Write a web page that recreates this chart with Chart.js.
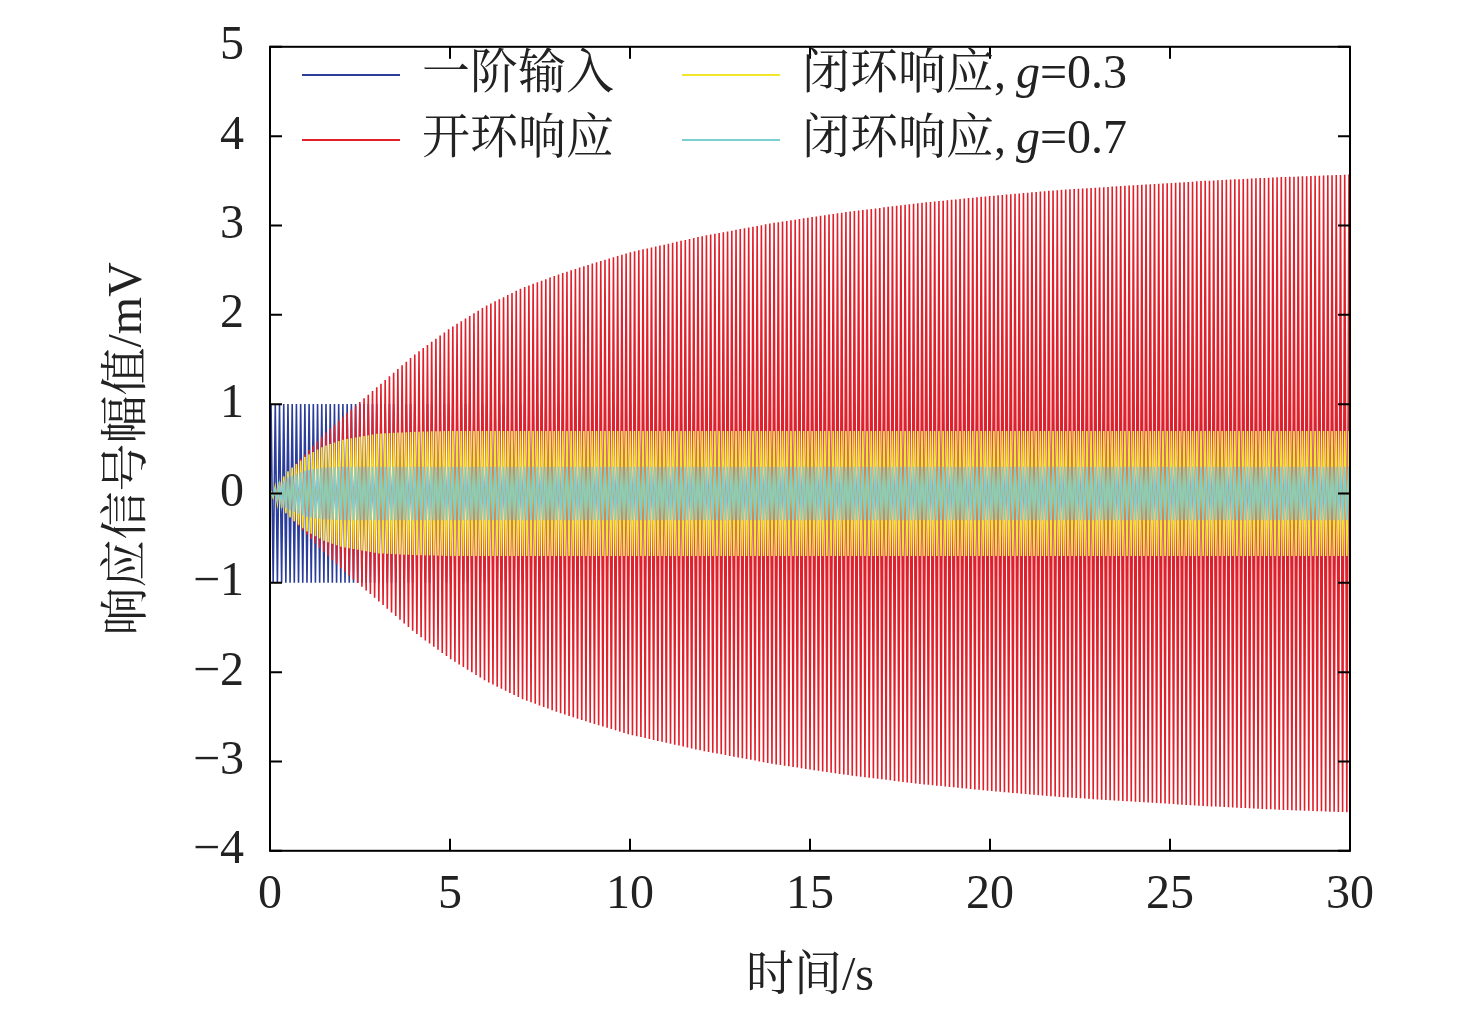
<!DOCTYPE html>
<html lang="zh">
<head>
<meta charset="UTF-8">
<title>响应信号</title>
<script src="https://cdn.jsdelivr.net/npm/chart.js"></script>
<style>
  html, body { margin: 0; background: #fff; }
  #wrap { width: 1476px; height: 1014px; }
</style>
</head>
<body>
<div id="wrap"><canvas id="c" width="1476" height="1014"></canvas></div>
<script>
// envelope amplitudes (time in s, amplitude in mV)
const envT      = [0, 0.5, 1, 1.5, 2, 3, 4, 5, 6, 7, 8, 9, 10, 12, 14, 16, 18, 20, 22, 24, 26, 28, 30];
const inputAmp  = [1, 1, 1, 1, 1, 1, 1, 1, 1, 1, 1, 1, 1, 1, 1, 1, 1, 1, 1, 1, 1, 1, 1];
const openAmp   = [0, 0.24, 0.45, 0.66, 0.85, 1.2, 1.55, 1.85, 2.1, 2.3, 2.45, 2.58, 2.7, 2.88, 3.03, 3.15, 3.25, 3.33, 3.4, 3.45, 3.5, 3.54, 3.57];
const g03Amp    = [0, 0.25, 0.42, 0.53, 0.6, 0.67, 0.69, 0.7, 0.7, 0.7, 0.7, 0.7, 0.7, 0.7, 0.7, 0.7, 0.7, 0.7, 0.7, 0.7, 0.7, 0.7, 0.7];
const g07Amp    = [0, 0.18, 0.26, 0.29, 0.3, 0.3, 0.3, 0.3, 0.3, 0.3, 0.3, 0.3, 0.3, 0.3, 0.3, 0.3, 0.3, 0.3, 0.3, 0.3, 0.3, 0.3, 0.3];
const cyclesPerSecond = 8.5;
const seriesNames = ['一阶输入', '开环响应', '闭环响应, g=0.3', '闭环响应, g=0.7'];
const seriesColors = ['#2a3d9a', '#e0202a', '#f2e62a', '#7ccfcf'];
const xTicks = [0, 5, 10, 15, 20, 25, 30];
const yTicks = [-4, -3, -2, -1, 0, 1, 2, 3, 4, 5];

function envAt(amp, t) {
  for (let i = 1; i < envT.length; i++) {
    if (t <= envT[i]) {
      const f = (t - envT[i-1]) / (envT[i] - envT[i-1]);
      return amp[i-1] + f * (amp[i] - amp[i-1]);
    }
  }
  return amp[amp.length - 1];
}
// alternate the envelope sign each half cycle
function swing(amp) {
  const pts = [{x: 0, y: 0}];
  const n = Math.round(2 * cyclesPerSecond * 30);
  for (let k = 0; k <= n; k++) {
    const t = (k + 0.5) * 30 / (n + 1);
    pts.push({x: t, y: (k % 2 ? -1 : 1) * envAt(amp, t)});
  }
  return pts;
}
const amps = [inputAmp, openAmp, g03Amp, g07Amp];

const FONT = '"Liberation Serif", "Noto Sans CJK SC", serif';
const CJK = '"Liberation Serif", "Noto Serif CJK SC", "Noto Sans CJK SC", serif';
const fmt = v => (v < 0 ? '−' + (-v) : '' + v);

const frame = {
  id: 'frame',
  afterDraw(chart) {
    const {ctx, chartArea: a, scales: {x, y}} = chart;
    ctx.save();
    ctx.strokeStyle = '#000'; ctx.lineWidth = 2;
    ctx.strokeRect(a.left, a.top, a.right - a.left, a.bottom - a.top);
    ctx.beginPath();
    xTicks.forEach(v => { const p = x.getPixelForValue(v);
      ctx.moveTo(p, a.bottom); ctx.lineTo(p, a.bottom - 12);
      ctx.moveTo(p, a.top); ctx.lineTo(p, a.top + 12); });
    yTicks.forEach(v => { const p = y.getPixelForValue(v);
      ctx.moveTo(a.left, p); ctx.lineTo(a.left + 12, p);
      ctx.moveTo(a.right, p); ctx.lineTo(a.right - 12, p); });
    ctx.stroke();
    // legend
    const items = [[302, 75], [302, 140], [682, 75], [682, 140]];
    ctx.font = '48px ' + CJK; ctx.textBaseline = 'middle';
    items.forEach(([lx, ly], i) => {
      ctx.strokeStyle = seriesColors[i]; ctx.lineWidth = 2;
      ctx.beginPath(); ctx.moveTo(lx, ly); ctx.lineTo(lx + 98, ly); ctx.stroke();
      ctx.fillStyle = '#222';
      let tx = lx + 120;
      const name = seriesNames[i];
      const gi = name.indexOf('g=');
      if (gi < 0) { ctx.fillText(name, tx, ly); return; }
      const pre = name.slice(0, gi - 1);
      ctx.fillText(pre, tx, ly); tx += ctx.measureText(pre).width + 10;
      ctx.font = 'italic 48px ' + FONT; ctx.fillText('g', tx, ly); tx += ctx.measureText('g').width;
      ctx.font = '48px ' + FONT; ctx.fillText(name.slice(gi + 1), tx, ly);
      ctx.font = '48px ' + CJK;
    });
    ctx.restore();
  }
};

new Chart(document.getElementById('c'), {
  type: 'line',
  data: {
    datasets: amps.map((a, i) => ({
      label: seriesNames[i], data: swing(a), borderColor: seriesColors[i],
      borderWidth: 1.6, pointRadius: 0, tension: 0, order: 4 - i
    }))
  },
  options: {
    responsive: false, animation: false,
    layout: { padding: { left: 0, right: 126, top: 10, bottom: 0 } },
    plugins: { legend: { display: false }, tooltip: { enabled: false } },
    scales: {
      x: {
        type: 'linear', min: 0, max: 30,
        afterBuildTicks: s => { s.ticks = xTicks.map(v => ({value: v})); },
        grid: { display: false }, border: { display: false },
        ticks: { font: { family: FONT, size: 48 }, color: '#222', padding: 8, maxRotation: 0, callback: fmt },
        title: { display: true, text: '时间/s', font: { family: CJK, size: 48 }, color: '#222', padding: { top: 16, bottom: 8 } }
      },
      y: {
        min: -4, max: 5,
        afterBuildTicks: s => { s.ticks = yTicks.map(v => ({value: v})); },
        grid: { display: false }, border: { display: false },
        ticks: { font: { family: FONT, size: 48 }, color: '#222', padding: 18, callback: fmt },
        title: { display: true, text: '响应信号幅值/mV', font: { family: CJK, size: 48 }, color: '#222', padding: { top: 100, bottom: 0 } },
        afterFit: s => { s.width = 270; }
      }
    }
  },
  plugins: [frame]
});
</script>
</body>
</html>
